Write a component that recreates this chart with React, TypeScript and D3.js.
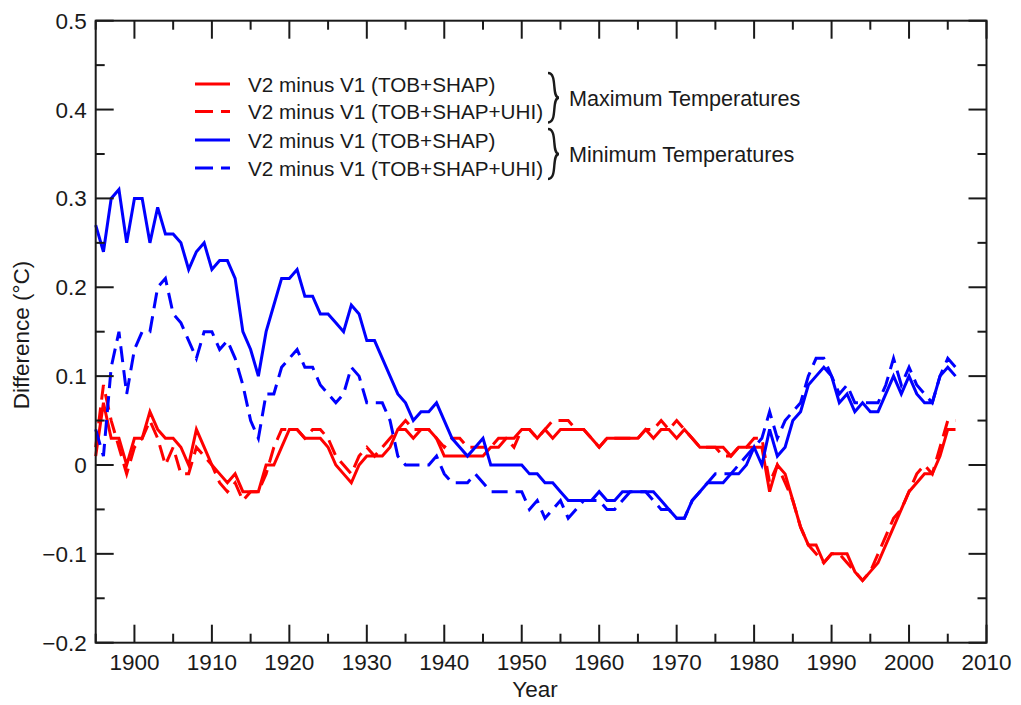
import * as d3 from "d3";
import { useEffect, useRef } from "react";

// years 1895-2006, one value per year
const YEARS = d3.range(1895, 2007);

const TMAX_TOB_SHAP = [
	0.01, 0.07, 0.03, 0.03, 0.0, 0.03, 0.03, 0.06, 0.04, 0.03,
	0.03, 0.02, 0.0, 0.04, 0.02, 0.0, -0.01, -0.02, -0.01, -0.03,
	-0.03, -0.03, 0.0, 0.0, 0.02, 0.04, 0.04, 0.03, 0.03, 0.03,
	0.02, 0.0, -0.01, -0.02, 0.0, 0.01, 0.01, 0.01, 0.02, 0.04,
	0.04, 0.03, 0.04, 0.04, 0.03, 0.01, 0.01, 0.01, 0.01, 0.01,
	0.01, 0.02, 0.02, 0.03, 0.03, 0.04, 0.04, 0.03, 0.04, 0.03,
	0.04, 0.04, 0.04, 0.04, 0.03, 0.02, 0.03, 0.03, 0.03, 0.03,
	0.03, 0.04, 0.03, 0.04, 0.04, 0.03, 0.04, 0.03, 0.02, 0.02,
	0.02, 0.02, 0.01, 0.02, 0.02, 0.02, 0.02, -0.03, 0.0, -0.01,
	-0.04, -0.07, -0.09, -0.09, -0.11, -0.1, -0.1, -0.1, -0.12, -0.13,
	-0.12, -0.11, -0.09, -0.07, -0.05, -0.03, -0.02, -0.01, -0.01, 0.01,
	0.04, 0.04,
];

const TMAX_TOB_SHAP_UHI = [
	0.02, 0.09, 0.05, 0.02, -0.01, 0.02, 0.03, 0.05, 0.03, 0.0,
	0.02, -0.01, -0.01, 0.02, 0.01, 0.0, -0.02, -0.03, -0.02, -0.04,
	-0.03, -0.03, -0.01, 0.02, 0.04, 0.04, 0.04, 0.03, 0.04, 0.04,
	0.03, 0.01, 0.0, -0.01, 0.01, 0.02, 0.01, 0.02, 0.03, 0.04,
	0.05, 0.04, 0.04, 0.04, 0.03, 0.02, 0.03, 0.03, 0.02, 0.02,
	0.02, 0.02, 0.03, 0.03, 0.02, 0.04, 0.04, 0.03, 0.04, 0.05,
	0.05, 0.05, 0.04, 0.04, 0.03, 0.02, 0.03, 0.03, 0.03, 0.03,
	0.03, 0.04, 0.04, 0.05, 0.04, 0.05, 0.04, 0.03, 0.02, 0.02,
	0.02, 0.01, 0.01, 0.02, 0.02, 0.03, 0.03, -0.02, 0.0, -0.02,
	-0.04, -0.07, -0.09, -0.1, -0.11, -0.1, -0.1, -0.11, -0.12, -0.13,
	-0.12, -0.1, -0.08, -0.06, -0.05, -0.03, -0.01, 0.0, -0.01, 0.02,
	0.05, 0.05,
];

const TMIN_TOB_SHAP = [
	0.27, 0.24, 0.3, 0.31, 0.25, 0.3, 0.3, 0.25, 0.29, 0.26,
	0.26, 0.25, 0.22, 0.24, 0.25, 0.22, 0.23, 0.23, 0.21, 0.15,
	0.13, 0.1, 0.15, 0.18, 0.21, 0.21, 0.22, 0.19, 0.19, 0.17,
	0.17, 0.16, 0.15, 0.18, 0.17, 0.14, 0.14, 0.12, 0.1, 0.08,
	0.07, 0.05, 0.06, 0.06, 0.07, 0.05, 0.03, 0.02, 0.01, 0.02,
	0.03, 0.0, 0.0, 0.0, 0.0, 0.0, -0.01, -0.01, -0.02, -0.02,
	-0.03, -0.04, -0.04, -0.04, -0.04, -0.03, -0.04, -0.04, -0.03, -0.03,
	-0.03, -0.03, -0.03, -0.04, -0.05, -0.06, -0.06, -0.04, -0.03, -0.02,
	-0.02, -0.02, -0.01, -0.01, 0.0, 0.02, 0.0, 0.04, 0.01, 0.02,
	0.05, 0.06, 0.09, 0.1, 0.11, 0.1, 0.07, 0.08, 0.06, 0.07,
	0.06, 0.06, 0.08, 0.1, 0.08, 0.1, 0.08, 0.07, 0.07, 0.1,
	0.11, 0.1,
];

const TMIN_TOB_SHAP_UHI = [
	0.04, 0.01, 0.11, 0.15, 0.08, 0.13, 0.15, 0.15, 0.2, 0.21,
	0.17, 0.16, 0.14, 0.12, 0.15, 0.15, 0.13, 0.14, 0.12, 0.09,
	0.05, 0.03, 0.08, 0.08, 0.11, 0.12, 0.13, 0.11, 0.11, 0.09,
	0.08, 0.07, 0.08, 0.11, 0.1, 0.07, 0.07, 0.07, 0.05, 0.01,
	0.0, 0.0, 0.0, 0.0, 0.01, -0.01, -0.02, -0.02, -0.02, -0.01,
	-0.02, -0.03, -0.03, -0.03, -0.03, -0.03, -0.05, -0.04, -0.06, -0.05,
	-0.04, -0.06, -0.05, -0.04, -0.04, -0.04, -0.05, -0.05, -0.04, -0.03,
	-0.03, -0.03, -0.04, -0.05, -0.05, -0.06, -0.06, -0.04, -0.03, -0.02,
	-0.01, -0.01, -0.01, 0.0, 0.01, 0.02, 0.03, 0.06, 0.03, 0.05,
	0.06, 0.07, 0.1, 0.12, 0.12, 0.1, 0.08, 0.09, 0.07, 0.07,
	0.07, 0.07, 0.09, 0.12, 0.09, 0.11, 0.09, 0.08, 0.07, 0.1,
	0.12, 0.11,
];

const SERIES = [TMAX_TOB_SHAP, TMAX_TOB_SHAP_UHI, TMIN_TOB_SHAP, TMIN_TOB_SHAP_UHI];
const SERIES_LABELS = [
	"V2 minus V1 (TOB+SHAP)",
	"V2 minus V1 (TOB+SHAP+UHI)",
	"V2 minus V1 (TOB+SHAP)",
	"V2 minus V1 (TOB+SHAP+UHI)",
];
const SERIES_COLORS = ["#ff0000", "#ff0000", "#0000ff", "#0000ff"];
const SERIES_DASHED = [false, true, false, true];
const GROUP_LABELS = ["Maximum Temperatures", "Minimum Temperatures"];

const X_TICKS = d3.range(1900, 2011, 10);
const X_MINOR = d3.range(1895, 2011, 5);
const Y_TICKS = [-0.2, -0.1, 0, 0.1, 0.2, 0.3, 0.4, 0.5];
const Y_MINOR = d3.range(-0.2, 0.501, 0.05);

const W = 1021;
const H = 705;
const margin = { left: 95.7, right: 34.5, top: 20.7, bottom: 62.3 };
const FONT = "'Liberation Sans', Arial, Helvetica, sans-serif";
const INK = "#1a1a1a";
const DASH = "16,8";

const App = () => {
	const svgRef = useRef(null);

	useEffect(() => {
		const width = W - margin.left - margin.right;
		const height = H - margin.top - margin.bottom;

		const x = d3.scaleLinear().domain([1895, 2010]).range([0, width]);
		const y = d3.scaleLinear().domain([-0.2, 0.5]).range([height, 0]);

		const svgEl = d3.select(svgRef.current);
		svgEl.selectAll("*").remove();
		svgEl.style("background", "#fff");
		const svg = svgEl
			.append("g")
			.attr("transform", `translate(${margin.left},${margin.top})`);

		// data lines first so the frame sits on top
		const line = d3
			.line<number>()
			.x((_, i) => x(YEARS[i]))
			.y((d) => y(d));

		SERIES.forEach((vals, i) => {
			svg.append("path")
				.datum(vals)
				.attr("fill", "none")
				.attr("stroke", SERIES_COLORS[i])
				.attr("stroke-width", 3)
				.attr("stroke-linejoin", "miter")
				.attr("stroke-dasharray", SERIES_DASHED[i] ? DASH : null)
				.attr("d", line);
		});

		// frame
		svg.append("rect")
			.attr("width", width)
			.attr("height", height)
			.attr("fill", "none")
			.attr("stroke", INK)
			.attr("stroke-width", 2);

		// inward ticks on all four sides, long for major, short for minor
		const major = 18;
		const minor = 9;
		const tickG = svg.append("g").attr("stroke", INK).attr("stroke-width", 2);
		X_MINOR.forEach((yr) => {
			const len = yr % 10 === 0 ? major : minor;
			const px = x(yr);
			tickG.append("line").attr("x1", px).attr("x2", px).attr("y1", height).attr("y2", height - len);
			tickG.append("line").attr("x1", px).attr("x2", px).attr("y1", 0).attr("y2", len);
		});
		Y_MINOR.forEach((v) => {
			const isMajor = Math.abs(Math.round(v * 10) - v * 10) < 1e-6;
			const len = isMajor ? major : minor;
			const py = y(v);
			tickG.append("line").attr("x1", 0).attr("x2", len).attr("y1", py).attr("y2", py);
			tickG.append("line").attr("x1", width).attr("x2", width - len).attr("y1", py).attr("y2", py);
		});

		// tick labels
		svg.append("g")
			.selectAll("text")
			.data(X_TICKS)
			.enter()
			.append("text")
			.attr("x", (d) => x(d))
			.attr("y", height + 27)
			.attr("text-anchor", "middle")
			.attr("font-family", FONT)
			.attr("font-size", 22.5)
			.attr("fill", INK)
			.text((d) => d);

		svg.append("g")
			.selectAll("text")
			.data(Y_TICKS)
			.enter()
			.append("text")
			.attr("x", -9)
			.attr("y", (d) => y(d) + 8)
			.attr("text-anchor", "end")
			.attr("font-family", FONT)
			.attr("font-size", 22.5)
			.attr("fill", INK)
			.text((d) => (d === 0 ? "0" : d3.format(".1f")(d)));

		// axis titles
		svg.append("text")
			.attr("x", 535 - margin.left)
			.attr("y", height + 54)
			.attr("text-anchor", "middle")
			.attr("font-family", FONT)
			.attr("font-size", 22.5)
			.attr("fill", INK)
			.text("Year");

		svg.append("text")
			.attr("transform", `translate(${29 - margin.left},${335 - margin.top}) rotate(-90)`)
			.attr("text-anchor", "middle")
			.attr("font-family", FONT)
			.attr("font-size", 22.5)
			.attr("fill", INK)
			.text("Difference (°C)");

		// legend
		const legend = svgEl.append("g");
		const rowY = [84, 111.5, 140, 168];
		SERIES_LABELS.forEach((label, i) => {
			legend.append("line")
				.attr("x1", 195)
				.attr("x2", 230)
				.attr("y1", rowY[i])
				.attr("y2", rowY[i])
				.attr("stroke", SERIES_COLORS[i])
				.attr("stroke-width", 3)
				.attr("stroke-dasharray", SERIES_DASHED[i] ? "18,8" : null);
			legend.append("text")
				.attr("x", 248)
				.attr("y", rowY[i] + 7.5)
				.attr("font-family", FONT)
				.attr("font-size", 20.7)
				.attr("fill", INK)
				.text(label);
		});

		const brace = (bx: number, y0: number, y1: number, w: number) => {
			const ym = (y0 + y1) / 2;
			return `M${bx},${y0} C${bx + w},${y0} ${bx + w * 0.3},${ym} ${bx + w * 1.1},${ym} ` +
				`C${bx + w * 0.3},${ym} ${bx + w},${y1} ${bx},${y1}`;
		};
		GROUP_LABELS.forEach((label, g) => {
			const y0 = rowY[g * 2] - 11;
			const y1 = rowY[g * 2 + 1] + 11;
			legend.append("path")
				.attr("d", brace(548, y0, y1, 10))
				.attr("fill", "none")
				.attr("stroke", INK)
				.attr("stroke-width", 2.4);
			legend.append("text")
				.attr("x", 569)
				.attr("y", (y0 + y1) / 2 + 8)
				.attr("font-family", FONT)
				.attr("font-size", 21.6)
				.attr("fill", INK)
				.text(label);
		});
	}, []);

	return (
		<svg
			ref={svgRef}
			width={W}
			height={H}
			style={{ position: "absolute", left: 0, top: 0, display: "block" }}
		/>
	);
};

export default App;
